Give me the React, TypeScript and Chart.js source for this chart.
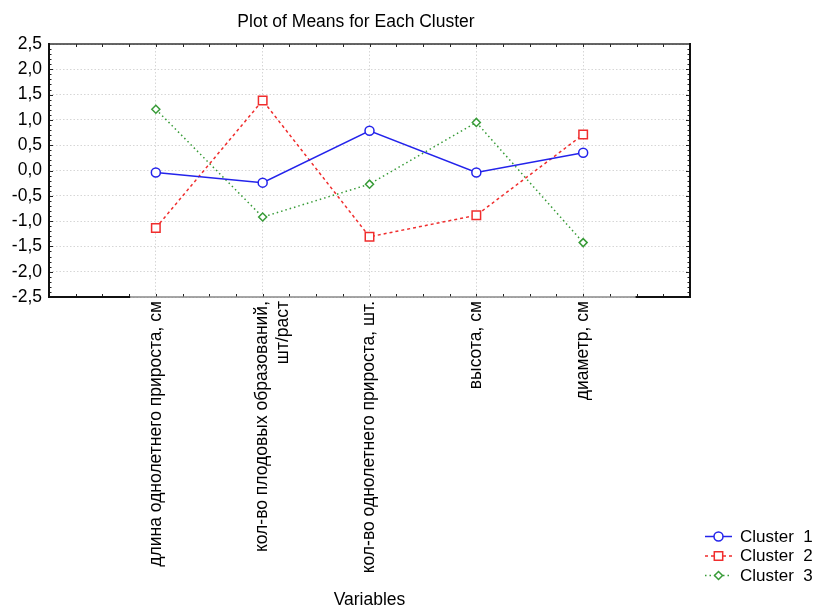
import React, { useEffect, useRef } from 'react';
import { Chart, registerables } from 'chart.js';

Chart.register(...registerables);

const categories: (string | string[])[] = [
  'длина однолетнего прироста, см',
  ['кол-во плодовых образований,', 'шт/раст'],
  'кол-во однолетнего прироста, шт.',
  'высота, см',
  'диаметр, см',
];
const cluster1 = [-0.04, -0.24, 0.785, -0.04, 0.35];
const cluster2 = [-1.135, 1.385, -1.31, -0.885, 0.71];
const cluster3 = [1.21, -0.92, -0.27, 0.95, -1.425];
const seriesLabels = ['Cluster  1', 'Cluster  2', 'Cluster  3'];
const yTickValues = [-2.5, -2.0, -1.5, -1.0, -0.5, 0.0, 0.5, 1.0, 1.5, 2.0, 2.5];
const chartTitle = 'Plot of Means for Each Cluster';
const xTitle = 'Variables';
const xMin = 0;
const xMax = 6;

const FONT = '"Liberation Sans", Arial, sans-serif';

const BLUE = 'rgb(35,35,235)';
const RED = 'rgb(240,45,45)';
const GREEN = 'rgb(55,155,55)';

function drawMarker(ctx: CanvasRenderingContext2D, style: string, x: number, y: number, color: string) {
  ctx.save();
  ctx.setLineDash([]);
  ctx.strokeStyle = color;
  ctx.fillStyle = '#fff';
  ctx.lineWidth = 1.5;
  ctx.beginPath();
  if (style === 'circle') {
    ctx.arc(x, y, 4.5, 0, Math.PI * 2);
  } else if (style === 'rect') {
    ctx.rect(x - 4.2, y - 4.2, 8.4, 8.4);
  } else {
    ctx.moveTo(x, y - 4);
    ctx.lineTo(x + 4, y);
    ctx.lineTo(x, y + 4);
    ctx.lineTo(x - 4, y);
    ctx.closePath();
  }
  ctx.fill();
  ctx.stroke();
  ctx.restore();
}

const framePlugin = {
  id: 'frame',
  afterDatasetsDraw(chart: any) {
    const { ctx, chartArea, scales } = chart;
    const { left, right, top, bottom } = chartArea;
    const xs = scales.x;
    const ys = scales.y;
    ctx.save();
    ctx.setLineDash([]);
    ctx.strokeStyle = '#222';
    ctx.lineWidth = 1;
    for (let v = xMin + 0.25; v < xMax; v += 0.25) {
      const px = Math.round(xs.getPixelForValue(v)) + 0.5;
      ctx.beginPath();
      ctx.moveTo(px, bottom);
      ctx.lineTo(px, bottom - 3);
      ctx.moveTo(px, top);
      ctx.lineTo(px, top + 3);
      ctx.stroke();
    }
    for (let i = 1; i < 50; i++) {
      const v = -2.5 + i * 0.1;
      const py = Math.round(ys.getPixelForValue(v)) + 0.5;
      const len = i % 5 === 0 ? 4 : 2.5;
      ctx.beginPath();
      ctx.moveTo(left, py);
      ctx.lineTo(left + len, py);
      ctx.moveTo(right, py);
      ctx.lineTo(right - len, py);
      ctx.stroke();
    }
    ctx.lineCap = 'square';
    ctx.strokeStyle = '#888';
    ctx.lineWidth = 1.5;
    ctx.beginPath();
    ctx.moveTo(left, bottom);
    ctx.lineTo(right, bottom);
    ctx.stroke();
    ctx.strokeStyle = '#333';
    ctx.lineWidth = 1.5;
    ctx.beginPath();
    ctx.moveTo(left, top);
    ctx.lineTo(right, top);
    ctx.stroke();
    ctx.strokeStyle = '#111';
    ctx.lineWidth = 2;
    ctx.beginPath();
    ctx.moveTo(left, top);
    ctx.lineTo(left, bottom);
    ctx.moveTo(right, top);
    ctx.lineTo(right, bottom);
    ctx.moveTo(left, bottom);
    ctx.lineTo(xs.getPixelForValue(0.75), bottom);
    ctx.moveTo(xs.getPixelForValue(5.5), bottom);
    ctx.lineTo(right, bottom);
    ctx.stroke();
    ctx.restore();
  },
  afterDraw(chart: any) {
    const { ctx } = chart;
    ctx.save();
    ctx.fillStyle = '#000';
    ctx.font = `17.5px ${FONT}`;
    ctx.textAlign = 'center';
    ctx.textBaseline = 'middle';
    ctx.fillText(chartTitle, 356, 22.5);
    chart.data.datasets.forEach((ds: any, i: number) => {
      const y = 536.5 + i * 19.5;
      ctx.save();
      ctx.strokeStyle = ds.borderColor;
      ctx.lineWidth = ds.borderWidth;
      ctx.setLineDash(ds.borderDash || []);
      ctx.beginPath();
      ctx.moveTo(705, y);
      ctx.lineTo(732, y);
      ctx.stroke();
      ctx.restore();
      drawMarker(ctx, ds.pointStyle, 718.5, y, ds.borderColor);
      ctx.fillStyle = '#000';
      ctx.font = `17px ${FONT}`;
      ctx.textAlign = 'left';
      ctx.textBaseline = 'middle';
      ctx.fillText(ds.label, 740, y + 0.5);
    });
    ctx.restore();
  },
};

function toPoints(vals: number[]) {
  return vals.map((v, i) => ({ x: i + 1, y: v }));
}

export default function App() {
  const ref = useRef<HTMLCanvasElement | null>(null);
  useEffect(() => {
    document.body.style.margin = '0';
    const canvas = ref.current;
    if (!canvas) return;
    const mk = (label: string, vals: number[], color: string, dash: number[], style: string, r: number) => ({
      label,
      data: toPoints(vals),
      borderColor: color,
      backgroundColor: color,
      borderWidth: 1.5,
      borderDash: dash,
      pointStyle: style,
      pointRadius: r,
      pointBorderWidth: 1.5,
      pointBackgroundColor: '#fff',
      pointBorderColor: color,
      tension: 0,
      fill: false,
    });
    const chart = new Chart(canvas, {
      type: 'line',
      data: {
        datasets: [
          mk(seriesLabels[0], cluster1, BLUE, [], 'circle', 4.5),
          mk(seriesLabels[1], cluster2, RED, [3, 3], 'rect', 6),
          mk(seriesLabels[2], cluster3, GREEN, [1.5, 3], 'rectRot', 4),
        ] as any,
      },
      options: {
        animation: false,
        responsive: false,
        maintainAspectRatio: false,
        layout: { padding: { left: 0, right: 127, top: 44, bottom: 0 } },
        plugins: {
          legend: { display: false },
          tooltip: { enabled: false },
          title: { display: false },
        },
        scales: {
          x: {
            type: 'linear',
            min: xMin,
            max: xMax,
            afterBuildTicks: (s: any) => {
              s.ticks = categories.map((_, i) => ({ value: i + 1 }));
            },
            afterFit: (s: any) => {
              s.height = 308;
            },
            ticks: {
              autoSkip: false,
              maxRotation: 90,
              minRotation: 90,
              padding: 4,
              color: '#000',
              font: { family: FONT, size: 17.5, lineHeight: 1.15 },
              callback: (v: any) => categories[Math.round(v) - 1] as any,
            },
            grid: { drawTicks: false, color: '#d6d6d6', lineWidth: 1 },
            border: { display: false, dash: [1.5, 2] },
            title: {
              display: true,
              text: xTitle,
              color: '#000',
              font: { family: FONT, size: 17.5, lineHeight: 0.5 },
              padding: { top: 0, bottom: 0 },
            },
          },
          y: {
            type: 'linear',
            min: -2.5,
            max: 2.5,
            afterBuildTicks: (s: any) => {
              s.ticks = yTickValues.map((v) => ({ value: v }));
            },
            afterFit: (s: any) => {
              s.width = 49;
            },
            ticks: {
              padding: 7,
              color: '#000',
              font: { family: FONT, size: 17.5 },
              callback: (v: any) => Number(v).toFixed(1).replace('.', ','),
            },
            grid: { drawTicks: false, color: '#d6d6d6', lineWidth: 1 },
            border: { display: false, dash: [1.5, 2] },
          },
        },
      },
      plugins: [framePlugin],
    });
    return () => chart.destroy();
  }, []);
  return <canvas ref={ref} width={817} height={605} style={{ display: 'block', width: 817, height: 605 }} />;
}
